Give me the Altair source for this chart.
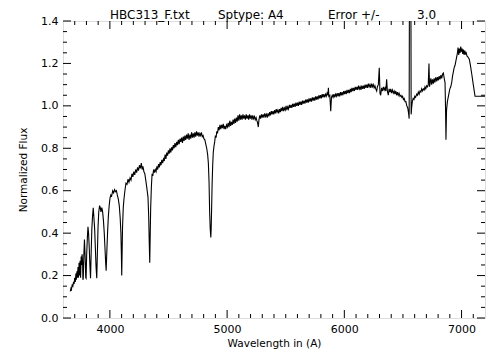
import altair as alt
import pandas as pd

# ---- spectrum ----
WAVE = [
 3662,3668,3672,3678,3684,3690,3695,3700,3705,3710,3714,3719,3723,3728,3732,3737,3741,3746,3750,3755,3759,3763,
 3767,3770,3773,3778,3783,3786,3790,3794,3797,3802,3808,3813,3818,3824,3830,3835,3840,3846,3852,3858,3864,3870,
 3876,3882,3888,3893,3899,3905,3912,3918,3924,3931,3938,3945,3952,3958,3964,3968,3973,3980,3987,3994,4001,4008,
 4015,4024,4032,4040,4048,4056,4063,4072,4080,4088,4094,4098,4101,4104,4108,4114,4120,4128,4137,4146,4155,4163,
 4172,4180,4188,4196,4204,4212,4220,4228,4236,4244,4252,4260,4268,4275,4282,4290,4298,4306,4316,4325,4331,4336,
 4340,4343,4348,4354,4360,4366,4373,4380,4387,4394,4401,4408,4415,4422,4429,4436,4443,4450,4457,4464,4471,4478,
 4485,4492,4499,4506,4513,4520,4527,4534,4541,4548,4555,4562,4570,4577,4584,4591,4598,4605,4612,4619,4626,4633,
 4640,4647,4654,4661,4668,4675,4683,4690,4697,4704,4711,4718,4725,4732,4739,4746,4753,4760,4767,4774,4781,4788,
 4795,4802,4810,4818,4826,4834,4840,4846,4851,4856,4861,4864,4868,4872,4877,4882,4888,4894,4900,4906,4912,4918,
 4925,4932,4939,4946,4953,4960,4967,4974,4981,4988,4995,5002,5009,5016,5023,5030,5037,5044,5051,5058,5065,5072,
 5079,5086,5093,5100,5107,5114,5121,5128,5135,5142,5149,5156,5163,5170,5177,5184,5191,5198,5205,5212,5219,5226,
 5233,5240,5247,5254,5260,5266,5272,5279,5286,5293,5300,5307,5314,5321,5328,5335,5342,5349,5356,5363,5370,5377,
 5384,5391,5398,5405,5412,5419,5426,5433,5440,5447,5454,5461,5468,5475,5482,5489,5496,5503,5510,5517,5524,5531,
 5538,5545,5552,5559,5566,5573,5580,5587,5594,5601,5608,5615,5622,5629,5636,5643,5650,5657,5664,5671,5678,5685,
 5692,5699,5706,5713,5720,5727,5734,5741,5748,5755,5762,5769,5776,5783,5790,5797,5804,5811,5818,5825,5832,5839,
 5846,5853,5860,5864,5868,5876,5884,5890,5897,5904,5911,5918,5925,5932,5939,5946,5953,5960,5967,5974,5981,5988,
 5995,6002,6009,6016,6023,6030,6037,6044,6051,6058,6065,6072,6079,6086,6093,6100,6107,6114,6121,6128,6135,6142,
 6149,6156,6163,6170,6177,6184,6191,6198,6205,6212,6219,6226,6233,6240,6247,6254,6261,6268,6276,6282,6290,6298,
 6304,6310,6318,6326,6333,6340,6347,6354,6361,6367,6375,6382,6389,6396,6403,6410,6418,6425,6432,6439,6446,6453,
 6460,6467,6475,6483,6490,6497,6504,6511,6518,6525,6533,6541,6548,6553,6557,6566,6570,6574,6580,6587,6594,6601,
 6608,6617,6624,6631,6638,6646,6653,6660,6667,6674,6681,6688,6695,6703,6710,6716,6722,6727,6733,6738,6745,6752,
 6759,6766,6773,6780,6788,6795,6802,6809,6816,6824,6831,6838,6845,6852,6859,6863,6867,6872,6879,6886,6893,6900,
 6908,6916,6923,6930,6937,6944,6951,6958,6965,6970,6976,6982,6987,6993,6999,7005,7010,7016,7022,7028,7034,7040,
 7046,7055,7066,7076,7087,7100,7115,7200,
]
FLUX = [
 0.125,0.14,0.135,0.155,0.15,0.17,0.16,0.19,0.17,0.21,0.18,0.22,0.19,0.24,0.19,0.26,0.20,0.27,0.19,0.29,0.25,0.30,
 0.26,0.18,0.19,0.30,0.37,0.33,0.27,0.19,0.187,0.30,0.38,0.43,0.40,0.33,0.24,0.187,0.30,0.42,0.48,0.52,0.47,0.42,
 0.33,0.24,0.187,0.30,0.43,0.50,0.53,0.52,0.50,0.52,0.50,0.46,0.40,0.33,0.26,0.223,0.30,0.40,0.48,0.53,0.565,0.58,
 0.575,0.60,0.59,0.605,0.595,0.60,0.58,0.56,0.53,0.47,0.40,0.30,0.20,0.30,0.43,0.52,0.56,0.60,0.635,0.63,0.655,0.64,
 0.66,0.65,0.68,0.665,0.69,0.675,0.70,0.685,0.71,0.695,0.72,0.705,0.73,0.70,0.715,0.69,0.68,0.65,0.61,0.57,0.48,0.35,
 0.26,0.36,0.52,0.62,0.68,0.67,0.70,0.685,0.70,0.69,0.715,0.70,0.725,0.71,0.735,0.72,0.745,0.73,0.75,0.74,0.77,0.75,
 0.78,0.765,0.79,0.775,0.80,0.78,0.805,0.79,0.815,0.80,0.825,0.805,0.83,0.815,0.84,0.82,0.845,0.83,0.85,0.825,0.855,0.835,
 0.86,0.84,0.865,0.845,0.87,0.84,0.865,0.845,0.875,0.85,0.87,0.85,0.875,0.855,0.88,0.86,0.875,0.855,0.87,0.86,0.875,0.855,
 0.86,0.845,0.84,0.82,0.80,0.77,0.73,0.64,0.50,0.42,0.38,0.42,0.52,0.63,0.72,0.78,0.81,0.83,0.86,0.85,0.88,0.87,
 0.90,0.885,0.91,0.89,0.91,0.895,0.915,0.89,0.905,0.89,0.91,0.90,0.92,0.90,0.93,0.905,0.925,0.91,0.935,0.915,0.94,0.92,
 0.945,0.925,0.955,0.93,0.96,0.935,0.955,0.935,0.96,0.94,0.955,0.935,0.96,0.94,0.955,0.935,0.96,0.94,0.955,0.935,0.955,0.94,
 0.95,0.935,0.945,0.93,0.92,0.90,0.935,0.955,0.94,0.96,0.945,0.96,0.945,0.965,0.95,0.96,0.945,0.965,0.95,0.97,0.955,0.975,
 0.96,0.975,0.96,0.98,0.965,0.985,0.97,0.98,0.965,0.985,0.97,0.99,0.975,0.995,0.975,0.99,0.98,1.00,0.98,0.995,0.985,1.005,
 0.99,1.005,0.99,1.01,0.995,1.01,0.995,1.015,1.00,1.015,1.00,1.02,1.005,1.02,1.005,1.025,1.01,1.025,1.01,1.03,1.015,1.03,
 1.015,1.035,1.02,1.035,1.02,1.04,1.025,1.04,1.025,1.045,1.03,1.045,1.03,1.05,1.035,1.05,1.035,1.055,1.04,1.055,1.04,1.055,
 1.045,1.06,1.05,1.085,1.045,1.05,0.975,1.04,1.05,1.04,1.055,1.04,1.055,1.045,1.06,1.045,1.06,1.045,1.065,1.05,1.065,1.05,
 1.07,1.055,1.07,1.055,1.075,1.06,1.075,1.06,1.08,1.065,1.085,1.07,1.085,1.07,1.09,1.075,1.09,1.075,1.095,1.08,1.09,1.075,
 1.095,1.08,1.095,1.08,1.10,1.085,1.10,1.085,1.105,1.09,1.10,1.085,1.105,1.09,1.10,1.085,1.095,1.08,1.07,1.09,1.10,1.18,
 1.06,1.05,1.085,1.07,1.09,1.075,1.085,1.07,1.125,1.07,1.05,1.08,1.065,1.08,1.06,1.075,1.06,1.07,1.055,1.07,1.05,1.065,
 1.05,1.06,1.045,1.05,1.04,1.045,1.03,1.035,1.02,1.02,1.00,0.99,0.965,0.94,2.0,2.0,0.96,0.99,1.02,1.035,1.03,1.045,
 1.04,1.055,1.05,1.065,1.055,1.07,1.065,1.08,1.07,1.08,1.075,1.09,1.08,1.095,1.09,1.10,1.20,1.09,1.11,1.13,1.10,1.125,
 1.105,1.13,1.11,1.135,1.115,1.135,1.12,1.14,1.125,1.145,1.13,1.15,1.155,1.13,1.11,1.00,0.84,0.98,1.02,1.04,1.06,1.08,
 1.09,1.11,1.14,1.16,1.18,1.19,1.21,1.23,1.25,1.275,1.24,1.27,1.25,1.28,1.255,1.27,1.245,1.265,1.24,1.26,1.245,1.25,
 1.235,1.23,1.22,1.19,1.15,1.10,1.045,1.045,
]

X_MAJOR = [4000, 5000, 6000, 7000]
X_MINOR = [v for v in range(3700, 7200, 100) if v % 1000 != 0]
Y_MAJOR = [0.0, 0.2, 0.4, 0.6, 0.8, 1.0, 1.2, 1.4]
Y_MINOR = [0.05, 0.1, 0.15, 0.25, 0.3, 0.35, 0.45, 0.5, 0.55, 0.65, 0.7, 0.75,
           0.85, 0.9, 0.95, 1.05, 1.1, 1.15, 1.25, 1.3, 1.35]

W, H = 422, 297
FONT = "DejaVu Sans"

xs = alt.Scale(domain=[3600, 7200], nice=False, zero=False)
ys = alt.Scale(domain=[0, 1.4], nice=False, zero=True)

XAXIS = alt.Axis(values=X_MAJOR, format="d", ticks=False, tickSize=0, grid=False,
                 domain=False, labelPadding=5, labelFontSize=11, labelFont=FONT,
                 labelColor="black", title="Wavelength in (A)", titleFont=FONT,
                 titleFontSize=10.5, titleFontWeight="normal", titleColor="black",
                 titlePadding=4)
YAXIS = alt.Axis(values=Y_MAJOR, format=".1f", ticks=False, tickSize=0, grid=False,
                 domain=False, labelPadding=5, labelFontSize=11, labelFont=FONT,
                 labelColor="black", title="Normalized Flux", titleFont=FONT,
                 titleFontSize=10.5, titleFontWeight="normal", titleColor="black",
                 titleX=-40, titleBaseline="middle")

spec = pd.DataFrame({"x": WAVE, "y": FLUX})

line = alt.Chart(spec).mark_line(color="black", strokeWidth=1.1, clip=True).encode(
    x=alt.X("x:Q", scale=xs, axis=XAXIS),
    y=alt.Y("y:Q", scale=ys, axis=YAXIS),
)

def xticks(vals, length):
    d = pd.DataFrame({"x": vals})
    bot = alt.Chart(d).mark_rule(color="black", strokeWidth=1).encode(
        x=alt.X("x:Q", scale=xs, axis=XAXIS), y=alt.value(H), y2=alt.value(H - length))
    top = alt.Chart(d).mark_rule(color="black", strokeWidth=1).encode(
        x=alt.X("x:Q", scale=xs, axis=XAXIS), y=alt.value(0), y2=alt.value(length))
    return [bot, top]

def yticks(vals, length):
    d = pd.DataFrame({"y": vals})
    left = alt.Chart(d).mark_rule(color="black", strokeWidth=1).encode(
        y=alt.Y("y:Q", scale=ys, axis=YAXIS), x=alt.value(0), x2=alt.value(length))
    right = alt.Chart(d).mark_rule(color="black", strokeWidth=1).encode(
        y=alt.Y("y:Q", scale=ys, axis=YAXIS), x=alt.value(W), x2=alt.value(W - length))
    return [left, right]

def label(txt, xpos):
    return alt.Chart(pd.DataFrame({"a": [0]})).mark_text(
        text=txt, align="left", baseline="alphabetic", fontSize=12, font=FONT, color="black"
    ).encode(x=alt.value(xpos), y=alt.value(-2))

layers = [line] + xticks(X_MAJOR, 8) + xticks(X_MINOR, 4) + yticks(Y_MAJOR, 8) + yticks(Y_MINOR, 4)
layers += [label("HBC313_F.txt", 47), label("Sptype: A4", 155),
           label("Error +/-", 265), label("3.0", 354)]

chart = alt.layer(*layers).properties(
    width=W, height=H,
    autosize=alt.AutoSizeParams(type="none"),
    padding={"left": 55, "top": 13, "right": 11, "bottom": 34},
).configure_view(stroke="black", strokeWidth=1).configure(background="white")

chart.save("out.html", embed_options={"renderer": "svg", "actions": False})
